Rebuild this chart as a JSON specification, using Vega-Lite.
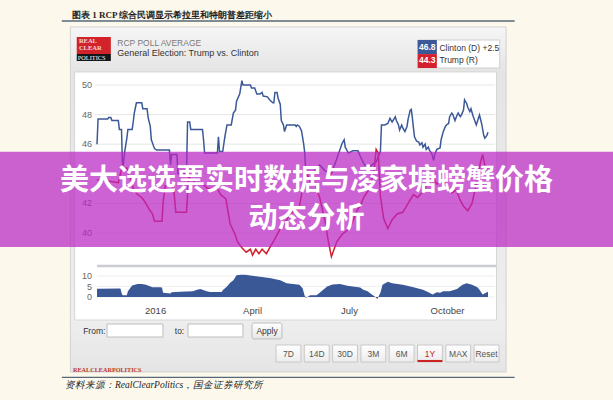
{
"$schema":"https://vega.github.io/schema/vega-lite/v6.json",
"width":613,"height":400,"autosize":"none","padding":0,"background":"#fcf8ec",
"config":{"view":{"stroke":null}},
"datasets":{
"one":[{"k":1}],
"polls":[
{"date":"2015-11-07","cand":"Clinton","pct":46.0},{"date":"2015-11-08","cand":"Clinton","pct":47.7},{"date":"2015-11-17","cand":"Clinton","pct":47.7},{"date":"2015-11-18","cand":"Clinton","pct":47.8},{"date":"2015-11-20","cand":"Clinton","pct":47.8},{"date":"2015-11-21","cand":"Clinton","pct":47.6},{"date":"2015-11-27","cand":"Clinton","pct":47.6},{"date":"2015-11-28","cand":"Clinton","pct":47.0},{"date":"2015-11-30","cand":"Clinton","pct":47.0},{"date":"2015-12-01","cand":"Clinton","pct":44.2},{"date":"2015-12-03","cand":"Clinton","pct":45.5},{"date":"2015-12-05","cand":"Clinton","pct":46.4},{"date":"2015-12-06","cand":"Clinton","pct":47.0},{"date":"2015-12-10","cand":"Clinton","pct":47.0},{"date":"2015-12-11","cand":"Clinton","pct":47.5},{"date":"2015-12-12","cand":"Clinton","pct":48.1},{"date":"2015-12-14","cand":"Clinton","pct":48.8},{"date":"2015-12-19","cand":"Clinton","pct":48.8},{"date":"2015-12-20","cand":"Clinton","pct":48.4},{"date":"2015-12-24","cand":"Clinton","pct":48.4},{"date":"2015-12-25","cand":"Clinton","pct":47.8},{"date":"2015-12-27","cand":"Clinton","pct":47.2},{"date":"2015-12-28","cand":"Clinton","pct":46.3},{"date":"2015-12-31","cand":"Clinton","pct":45.7},{"date":"2016-01-02","cand":"Clinton","pct":45.6},{"date":"2016-01-14","cand":"Clinton","pct":45.6},{"date":"2016-01-15","cand":"Clinton","pct":44.6},{"date":"2016-01-16","cand":"Clinton","pct":45.3},{"date":"2016-01-21","cand":"Clinton","pct":45.3},{"date":"2016-01-22","cand":"Clinton","pct":44.0},{"date":"2016-01-30","cand":"Clinton","pct":44.0},{"date":"2016-01-31","cand":"Clinton","pct":47.5},{"date":"2016-02-02","cand":"Clinton","pct":47.5},{"date":"2016-02-03","cand":"Clinton","pct":47.0},{"date":"2016-02-14","cand":"Clinton","pct":47.0},{"date":"2016-02-15","cand":"Clinton","pct":46.3},{"date":"2016-02-16","cand":"Clinton","pct":45.4},{"date":"2016-02-28","cand":"Clinton","pct":45.4},{"date":"2016-02-29","cand":"Clinton","pct":46.5},{"date":"2016-03-01","cand":"Clinton","pct":45.5},{"date":"2016-03-04","cand":"Clinton","pct":45.5},{"date":"2016-03-06","cand":"Clinton","pct":46.5},{"date":"2016-03-08","cand":"Clinton","pct":47.3},{"date":"2016-03-12","cand":"Clinton","pct":47.3},{"date":"2016-03-14","cand":"Clinton","pct":48.1},{"date":"2016-03-16","cand":"Clinton","pct":48.3},{"date":"2016-03-17","cand":"Clinton","pct":48.9},{"date":"2016-03-20","cand":"Clinton","pct":49.4},{"date":"2016-03-22","cand":"Clinton","pct":50.3},{"date":"2016-03-23","cand":"Clinton","pct":50.0},{"date":"2016-03-30","cand":"Clinton","pct":50.0},{"date":"2016-03-31","cand":"Clinton","pct":49.8},{"date":"2016-04-03","cand":"Clinton","pct":49.8},{"date":"2016-04-05","cand":"Clinton","pct":49.4},{"date":"2016-04-08","cand":"Clinton","pct":49.4},{"date":"2016-04-10","cand":"Clinton","pct":49.5},{"date":"2016-04-11","cand":"Clinton","pct":49.25},{"date":"2016-04-15","cand":"Clinton","pct":49.2},{"date":"2016-04-17","cand":"Clinton","pct":49.0},{"date":"2016-04-20","cand":"Clinton","pct":48.8},{"date":"2016-04-21","cand":"Clinton","pct":48.8},{"date":"2016-04-22","cand":"Clinton","pct":49.5},{"date":"2016-04-24","cand":"Clinton","pct":49.5},{"date":"2016-04-25","cand":"Clinton","pct":49.1},{"date":"2016-04-27","cand":"Clinton","pct":48.7},{"date":"2016-04-28","cand":"Clinton","pct":47.6},{"date":"2016-04-30","cand":"Clinton","pct":47.3},{"date":"2016-05-01","cand":"Clinton","pct":46.85},{"date":"2016-05-03","cand":"Clinton","pct":47.3},{"date":"2016-05-11","cand":"Clinton","pct":47.3},{"date":"2016-05-12","cand":"Clinton","pct":47.2},{"date":"2016-05-13","cand":"Clinton","pct":47.3},{"date":"2016-05-15","cand":"Clinton","pct":47.2},{"date":"2016-05-17","cand":"Clinton","pct":46.9},{"date":"2016-05-19","cand":"Clinton","pct":46.0},{"date":"2016-05-20","cand":"Clinton","pct":45.4},{"date":"2016-05-21","cand":"Clinton","pct":44.0},{"date":"2016-05-25","cand":"Clinton","pct":43.6},{"date":"2016-05-30","cand":"Clinton","pct":44.3},{"date":"2016-06-03","cand":"Clinton","pct":44.6},{"date":"2016-06-08","cand":"Clinton","pct":44.2},{"date":"2016-06-14","cand":"Clinton","pct":44.0},{"date":"2016-06-19","cand":"Clinton","pct":45.0},{"date":"2016-06-24","cand":"Clinton","pct":46.05},{"date":"2016-06-26","cand":"Clinton","pct":46.3},{"date":"2016-06-27","cand":"Clinton","pct":45.8},{"date":"2016-06-30","cand":"Clinton","pct":45.4},{"date":"2016-07-04","cand":"Clinton","pct":45.55},{"date":"2016-07-09","cand":"Clinton","pct":45.55},{"date":"2016-07-11","cand":"Clinton","pct":45.2},{"date":"2016-07-15","cand":"Clinton","pct":44.6},{"date":"2016-07-20","cand":"Clinton","pct":44.5},{"date":"2016-07-26","cand":"Clinton","pct":44.8},{"date":"2016-07-30","cand":"Clinton","pct":45.5},{"date":"2016-07-31","cand":"Clinton","pct":47.3},{"date":"2016-08-03","cand":"Clinton","pct":47.3},{"date":"2016-08-06","cand":"Clinton","pct":47.4},{"date":"2016-08-08","cand":"Clinton","pct":47.75},{"date":"2016-08-10","cand":"Clinton","pct":47.5},{"date":"2016-08-13","cand":"Clinton","pct":47.85},{"date":"2016-08-14","cand":"Clinton","pct":47.6},{"date":"2016-08-16","cand":"Clinton","pct":47.3},{"date":"2016-08-17","cand":"Clinton","pct":46.96},{"date":"2016-08-19","cand":"Clinton","pct":47.3},{"date":"2016-08-20","cand":"Clinton","pct":47.1},{"date":"2016-08-22","cand":"Clinton","pct":46.85},{"date":"2016-08-24","cand":"Clinton","pct":47.2},{"date":"2016-08-25","cand":"Clinton","pct":47.7},{"date":"2016-08-27","cand":"Clinton","pct":48.3},{"date":"2016-08-28","cand":"Clinton","pct":48.35},{"date":"2016-08-29","cand":"Clinton","pct":47.8},{"date":"2016-08-30","cand":"Clinton","pct":47.1},{"date":"2016-08-31","cand":"Clinton","pct":46.5},{"date":"2016-09-02","cand":"Clinton","pct":46.2},{"date":"2016-09-04","cand":"Clinton","pct":46.15},{"date":"2016-09-05","cand":"Clinton","pct":45.95},{"date":"2016-09-07","cand":"Clinton","pct":46.1},{"date":"2016-09-08","cand":"Clinton","pct":45.8},{"date":"2016-09-10","cand":"Clinton","pct":46.0},{"date":"2016-09-11","cand":"Clinton","pct":45.65},{"date":"2016-09-13","cand":"Clinton","pct":45.8},{"date":"2016-09-14","cand":"Clinton","pct":45.6},{"date":"2016-09-16","cand":"Clinton","pct":45.4},{"date":"2016-09-18","cand":"Clinton","pct":44.9},{"date":"2016-09-19","cand":"Clinton","pct":45.3},{"date":"2016-09-21","cand":"Clinton","pct":45.65},{"date":"2016-09-24","cand":"Clinton","pct":45.75},{"date":"2016-09-25","cand":"Clinton","pct":46.3},{"date":"2016-09-27","cand":"Clinton","pct":46.85},{"date":"2016-09-29","cand":"Clinton","pct":47.2},{"date":"2016-09-30","cand":"Clinton","pct":47.3},{"date":"2016-10-02","cand":"Clinton","pct":47.4},{"date":"2016-10-03","cand":"Clinton","pct":47.86},{"date":"2016-10-05","cand":"Clinton","pct":48.1},{"date":"2016-10-06","cand":"Clinton","pct":48.0},{"date":"2016-10-08","cand":"Clinton","pct":47.6},{"date":"2016-10-10","cand":"Clinton","pct":47.97},{"date":"2016-10-11","cand":"Clinton","pct":48.1},{"date":"2016-10-13","cand":"Clinton","pct":47.86},{"date":"2016-10-14","cand":"Clinton","pct":47.97},{"date":"2016-10-16","cand":"Clinton","pct":48.3},{"date":"2016-10-17","cand":"Clinton","pct":49.0},{"date":"2016-10-19","cand":"Clinton","pct":48.75},{"date":"2016-10-20","cand":"Clinton","pct":48.5},{"date":"2016-10-22","cand":"Clinton","pct":48.2},{"date":"2016-10-23","cand":"Clinton","pct":48.4},{"date":"2016-10-25","cand":"Clinton","pct":47.9},{"date":"2016-10-27","cand":"Clinton","pct":47.5},{"date":"2016-10-28","cand":"Clinton","pct":47.3},{"date":"2016-10-30","cand":"Clinton","pct":47.75},{"date":"2016-10-31","cand":"Clinton","pct":47.97},{"date":"2016-11-02","cand":"Clinton","pct":47.4},{"date":"2016-11-04","cand":"Clinton","pct":46.6},{"date":"2016-11-05","cand":"Clinton","pct":46.4},{"date":"2016-11-07","cand":"Clinton","pct":46.6},{"date":"2016-11-08","cand":"Clinton","pct":46.8},
{"date":"2015-11-07","cand":"Trump","pct":43.6},{"date":"2015-11-19","cand":"Trump","pct":43.5},{"date":"2015-11-27","cand":"Trump","pct":43.4},{"date":"2015-11-30","cand":"Trump","pct":44.3},{"date":"2015-12-05","cand":"Trump","pct":44.4},{"date":"2015-12-08","cand":"Trump","pct":43.8},{"date":"2015-12-11","cand":"Trump","pct":43.0},{"date":"2015-12-15","cand":"Trump","pct":42.6},{"date":"2015-12-19","cand":"Trump","pct":42.4},{"date":"2015-12-22","cand":"Trump","pct":42.1},{"date":"2015-12-26","cand":"Trump","pct":41.6},{"date":"2015-12-29","cand":"Trump","pct":41.3},{"date":"2015-12-31","cand":"Trump","pct":40.8},{"date":"2016-01-07","cand":"Trump","pct":40.8},{"date":"2016-01-08","cand":"Trump","pct":42.0},{"date":"2016-01-10","cand":"Trump","pct":43.2},{"date":"2016-01-15","cand":"Trump","pct":43.2},{"date":"2016-01-18","cand":"Trump","pct":43.0},{"date":"2016-01-20","cand":"Trump","pct":41.4},{"date":"2016-01-30","cand":"Trump","pct":41.4},{"date":"2016-02-01","cand":"Trump","pct":43.8},{"date":"2016-02-07","cand":"Trump","pct":43.4},{"date":"2016-02-14","cand":"Trump","pct":43.3},{"date":"2016-02-19","cand":"Trump","pct":43.0},{"date":"2016-02-28","cand":"Trump","pct":43.0},{"date":"2016-03-02","cand":"Trump","pct":42.6},{"date":"2016-03-07","cand":"Trump","pct":42.3},{"date":"2016-03-11","cand":"Trump","pct":40.6},{"date":"2016-03-15","cand":"Trump","pct":40.0},{"date":"2016-03-18","cand":"Trump","pct":39.4},{"date":"2016-03-22","cand":"Trump","pct":39.0},{"date":"2016-03-26","cand":"Trump","pct":38.7},{"date":"2016-03-30","cand":"Trump","pct":38.9},{"date":"2016-04-01","cand":"Trump","pct":38.5},{"date":"2016-04-04","cand":"Trump","pct":38.9},{"date":"2016-04-07","cand":"Trump","pct":38.6},{"date":"2016-04-10","cand":"Trump","pct":38.9},{"date":"2016-04-14","cand":"Trump","pct":38.6},{"date":"2016-04-17","cand":"Trump","pct":39.0},{"date":"2016-04-22","cand":"Trump","pct":39.6},{"date":"2016-04-27","cand":"Trump","pct":40.3},{"date":"2016-05-01","cand":"Trump","pct":40.6},{"date":"2016-05-06","cand":"Trump","pct":41.3},{"date":"2016-05-11","cand":"Trump","pct":41.5},{"date":"2016-05-15","cand":"Trump","pct":41.8},{"date":"2016-05-18","cand":"Trump","pct":43.0},{"date":"2016-05-21","cand":"Trump","pct":44.2},{"date":"2016-05-25","cand":"Trump","pct":43.5},{"date":"2016-05-30","cand":"Trump","pct":43.2},{"date":"2016-06-03","cand":"Trump","pct":42.4},{"date":"2016-06-08","cand":"Trump","pct":40.8},{"date":"2016-06-11","cand":"Trump","pct":39.5},{"date":"2016-06-14","cand":"Trump","pct":38.4},{"date":"2016-06-16","cand":"Trump","pct":38.8},{"date":"2016-06-19","cand":"Trump","pct":39.4},{"date":"2016-06-24","cand":"Trump","pct":39.9},{"date":"2016-06-29","cand":"Trump","pct":40.2},{"date":"2016-07-03","cand":"Trump","pct":40.6},{"date":"2016-07-08","cand":"Trump","pct":41.5},{"date":"2016-07-12","cand":"Trump","pct":42.0},{"date":"2016-07-15","cand":"Trump","pct":42.5},{"date":"2016-07-20","cand":"Trump","pct":43.0},{"date":"2016-07-24","cand":"Trump","pct":44.2},{"date":"2016-07-26","cand":"Trump","pct":45.65},{"date":"2016-07-28","cand":"Trump","pct":45.4},{"date":"2016-07-30","cand":"Trump","pct":42.5},{"date":"2016-08-02","cand":"Trump","pct":41.0},{"date":"2016-08-06","cand":"Trump","pct":40.3},{"date":"2016-08-10","cand":"Trump","pct":40.9},{"date":"2016-08-15","cand":"Trump","pct":41.3},{"date":"2016-08-20","cand":"Trump","pct":41.4},{"date":"2016-08-25","cand":"Trump","pct":42.0},{"date":"2016-08-30","cand":"Trump","pct":42.6},{"date":"2016-09-03","cand":"Trump","pct":42.4},{"date":"2016-09-08","cand":"Trump","pct":42.8},{"date":"2016-09-13","cand":"Trump","pct":43.4},{"date":"2016-09-17","cand":"Trump","pct":43.8},{"date":"2016-09-21","cand":"Trump","pct":43.3},{"date":"2016-09-26","cand":"Trump","pct":43.6},{"date":"2016-09-30","cand":"Trump","pct":43.2},{"date":"2016-10-05","cand":"Trump","pct":42.7},{"date":"2016-10-09","cand":"Trump","pct":42.9},{"date":"2016-10-13","cand":"Trump","pct":42.2},{"date":"2016-10-16","cand":"Trump","pct":41.8},{"date":"2016-10-20","cand":"Trump","pct":41.5},{"date":"2016-10-24","cand":"Trump","pct":42.0},{"date":"2016-10-27","cand":"Trump","pct":43.0},{"date":"2016-10-30","cand":"Trump","pct":44.0},{"date":"2016-11-01","cand":"Trump","pct":44.8},{"date":"2016-11-03","cand":"Trump","pct":45.3},{"date":"2016-11-05","cand":"Trump","pct":44.6},{"date":"2016-11-08","cand":"Trump","pct":44.3}
],
"spread":[
{"date":"2015-11-07","s":3.9},{"date":"2015-11-29","s":4.0},{"date":"2015-11-30","s":2.0},{"date":"2015-12-01","s":0.8},{"date":"2015-12-05","s":0.8},{"date":"2015-12-06","s":2.7},{"date":"2015-12-10","s":5.5},{"date":"2015-12-15","s":6.2},{"date":"2015-12-19","s":6.2},{"date":"2015-12-23","s":5.8},{"date":"2015-12-29","s":4.7},{"date":"2016-01-05","s":4.7},{"date":"2016-01-07","s":4.5},{"date":"2016-01-08","s":2.0},{"date":"2016-01-15","s":1.7},{"date":"2016-01-16","s":2.3},{"date":"2016-01-24","s":2.5},{"date":"2016-02-05","s":2.7},{"date":"2016-02-09","s":3.5},{"date":"2016-02-12","s":3.8},{"date":"2016-02-14","s":3.5},{"date":"2016-02-18","s":2.7},{"date":"2016-02-21","s":2.4},{"date":"2016-03-03","s":2.4},{"date":"2016-03-04","s":3.2},{"date":"2016-03-08","s":5.0},{"date":"2016-03-11","s":6.8},{"date":"2016-03-14","s":8.0},{"date":"2016-03-17","s":10.3},{"date":"2016-03-21","s":10.6},{"date":"2016-03-25","s":10.6},{"date":"2016-03-30","s":10.2},{"date":"2016-04-08","s":9.6},{"date":"2016-04-17","s":9.1},{"date":"2016-04-27","s":8.0},{"date":"2016-05-03","s":6.5},{"date":"2016-05-09","s":6.2},{"date":"2016-05-15","s":5.8},{"date":"2016-05-18","s":4.2},{"date":"2016-05-20","s":0.5},{"date":"2016-05-21","s":-0.2},{"date":"2016-05-23","s":0.1},{"date":"2016-05-25","s":0.8},{"date":"2016-05-31","s":0.8},{"date":"2016-06-03","s":2.0},{"date":"2016-06-10","s":5.0},{"date":"2016-06-15","s":6.0},{"date":"2016-06-22","s":6.2},{"date":"2016-06-29","s":5.3},{"date":"2016-07-04","s":5.0},{"date":"2016-07-11","s":4.5},{"date":"2016-07-14","s":3.5},{"date":"2016-07-18","s":2.7},{"date":"2016-07-22","s":1.2},{"date":"2016-07-25","s":0.1},{"date":"2016-07-27","s":-0.8},{"date":"2016-07-28","s":0.0},{"date":"2016-07-30","s":2.0},{"date":"2016-08-01","s":5.8},{"date":"2016-08-06","s":7.3},{"date":"2016-08-10","s":6.5},{"date":"2016-08-15","s":6.2},{"date":"2016-08-20","s":5.8},{"date":"2016-08-30","s":4.7},{"date":"2016-09-08","s":3.5},{"date":"2016-09-14","s":2.0},{"date":"2016-09-17","s":1.2},{"date":"2016-09-21","s":2.3},{"date":"2016-09-24","s":2.0},{"date":"2016-09-27","s":2.7},{"date":"2016-10-03","s":2.7},{"date":"2016-10-10","s":3.8},{"date":"2016-10-15","s":5.8},{"date":"2016-10-19","s":6.5},{"date":"2016-10-24","s":5.8},{"date":"2016-10-29","s":4.7},{"date":"2016-10-31","s":3.5},{"date":"2016-11-03","s":1.2},{"date":"2016-11-06","s":2.0},{"date":"2016-11-08","s":2.5}
],
"neg":[{"date":"2016-05-20","s":0},{"date":"2016-05-21","s":-0.2},{"date":"2016-05-22","s":0},{"date":"2016-07-26","s":0},{"date":"2016-07-27","s":-0.8},{"date":"2016-07-28","s":0}],
"grid":[{"v":40},{"v":42},{"v":44},{"v":46},{"v":48},{"v":50}],
"sgrid":[{"v":0},{"v":5},{"v":10}],
"months":[{"date":"2016-01-01","label":"2016"},{"date":"2016-04-01","label":"April"},{"date":"2016-07-01","label":"July"},{"date":"2016-10-01","label":"October"}],
"buttons":[{"label":"7D"},{"label":"14D"},{"label":"30D"},{"label":"3M"},{"label":"6M"},{"label":"1Y"},{"label":"MAX"},{"label":"Reset"}]
},
"resolve":{"scale":{"x":"independent","y":"independent"}},
"layer":[
{"layer":[
{"data":{"name":"one"},"mark":{"type":"text","text":"图表 1  RCP 综合民调显示希拉里和特朗普差距缩小","align":"left","baseline":"middle","font":"Liberation Serif","fontSize":9,"fontWeight":"bold","color":"#1e1e1e"},
 "encoding":{"x":{"datum":{"year":2015,"month":10,"date":14,"hours":12,"utc":true},"type":"temporal","axis":null,"scale":{"type":"utc","domain":[{"year":2015,"month":11,"date":7,"utc":true},{"year":2016,"month":11,"date":8,"utc":true}],"range":[97,488],"nice":false}},
  "y":{"datum":54.73,"type":"quantitative","axis":null,"scale":{"domain":[40,50],"range":[233,85],"nice":false,"zero":false}}}},
{"data":{"name":"one"},"mark":{"type":"rule","color":"#56697a","strokeWidth":1.5},
 "encoding":{"x":{"datum":{"year":2015,"month":10,"date":5,"utc":true},"type":"temporal","axis":null},"x2":{"datum":{"year":2016,"month":12,"date":3,"utc":true}},"y":{"datum":54.32,"type":"quantitative","axis":null}}},
{"data":{"name":"one"},"mark":{"type":"rect","stroke":"#d2d2d2","color":{"gradient":"linear","x1":0,"y1":0,"x2":0,"y2":1,"stops":[{"offset":0,"color":"#f6f6f6"},{"offset":0.13,"color":"#e4e4e4"},{"offset":0.85,"color":"#eeeeee"},{"offset":1,"color":"#e5e5e5"}]}},
 "encoding":{"x":{"datum":{"year":2015,"month":10,"date":13,"utc":true},"type":"temporal","axis":null},"x2":{"datum":{"year":2016,"month":11,"date":25,"utc":true}},"y":{"datum":53.92,"type":"quantitative","axis":null},"y2":{"datum":30.61}}},
{"data":{"name":"one"},"mark":{"type":"rect","color":"#ffffff","stroke":"#d6d6d6"},
 "encoding":{"x":{"datum":{"year":2015,"month":10,"date":17,"utc":true},"type":"temporal","axis":null},"x2":{"datum":{"year":2016,"month":11,"date":16,"utc":true}},"y":{"datum":50.88,"type":"quantitative","axis":null},"y2":{"datum":34.12}}},
{"data":{"name":"one"},"mark":{"type":"rect","color":"#d2232a"},
 "encoding":{"x":{"datum":{"year":2015,"month":10,"date":19,"utc":true},"type":"temporal","axis":null},"x2":{"datum":{"year":2015,"month":11,"date":20,"utc":true}},"y":{"datum":53.24,"type":"quantitative","axis":null},"y2":{"datum":52.09}}},
{"data":{"name":"one"},"mark":{"type":"rect","color":"#161616"},
 "encoding":{"x":{"datum":{"year":2015,"month":10,"date":19,"utc":true},"type":"temporal","axis":null},"x2":{"datum":{"year":2015,"month":11,"date":20,"utc":true}},"y":{"datum":52.09,"type":"quantitative","axis":null},"y2":{"datum":51.62}}},
{"data":{"name":"one"},"mark":{"type":"text","text":"REAL","align":"left","baseline":"middle","font":"Liberation Serif","fontSize":6.5,"fontWeight":"bold","color":"#f6d4d4"},
 "encoding":{"x":{"datum":{"year":2015,"month":10,"date":21,"utc":true},"type":"temporal","axis":null},"y":{"datum":52.94,"type":"quantitative","axis":null}}},
{"data":{"name":"one"},"mark":{"type":"text","text":"CLEAR","align":"left","baseline":"middle","font":"Liberation Serif","fontSize":6.5,"fontWeight":"bold","color":"#f6d4d4"},
 "encoding":{"x":{"datum":{"year":2015,"month":10,"date":21,"utc":true},"type":"temporal","axis":null},"y":{"datum":52.47,"type":"quantitative","axis":null}}},
{"data":{"name":"one"},"mark":{"type":"text","text":"POLITICS","align":"left","baseline":"middle","font":"Liberation Serif","fontSize":6.3,"color":"#ffffff"},
 "encoding":{"x":{"datum":{"year":2015,"month":10,"date":20,"utc":true},"type":"temporal","axis":null},"y":{"datum":51.84,"type":"quantitative","axis":null}}},
{"data":{"name":"one"},"mark":{"type":"text","text":"RCP POLL AVERAGE","align":"left","baseline":"middle","font":"Liberation Sans","fontSize":8.5,"color":"#7a7a7a"},
 "encoding":{"x":{"datum":{"year":2015,"month":11,"date":26,"utc":true},"type":"temporal","axis":null},"y":{"datum":52.84,"type":"quantitative","axis":null}}},
{"data":{"name":"one"},"mark":{"type":"text","text":"General Election: Trump vs. Clinton","align":"left","baseline":"middle","font":"Liberation Sans","fontSize":9,"color":"#333333"},
 "encoding":{"x":{"datum":{"year":2015,"month":11,"date":26,"utc":true},"type":"temporal","axis":null},"y":{"datum":52.16,"type":"quantitative","axis":null}}},
{"data":{"name":"one"},"mark":{"type":"rect","color":"#ffffff","stroke":"#d0d0d0"},
 "encoding":{"x":{"datum":{"year":2016,"month":9,"date":3,"utc":true},"type":"temporal","axis":null},"x2":{"datum":{"year":2016,"month":11,"date":19,"utc":true}},"y":{"datum":53.04,"type":"quantitative","axis":null},"y2":{"datum":51.15}}},
{"data":{"name":"one"},"mark":{"type":"rect","color":"#3b5998"},
 "encoding":{"x":{"datum":{"year":2016,"month":9,"date":3,"utc":true},"type":"temporal","axis":null},"x2":{"datum":{"year":2016,"month":9,"date":21,"utc":true}},"y":{"datum":53.04,"type":"quantitative","axis":null},"y2":{"datum":52.09}}},
{"data":{"name":"one"},"mark":{"type":"rect","color":"#d4202c"},
 "encoding":{"x":{"datum":{"year":2016,"month":9,"date":3,"utc":true},"type":"temporal","axis":null},"x2":{"datum":{"year":2016,"month":9,"date":21,"utc":true}},"y":{"datum":52.09,"type":"quantitative","axis":null},"y2":{"datum":51.15}}},
{"data":{"name":"one"},"mark":{"type":"text","text":"46.8","align":"left","baseline":"middle","font":"Liberation Sans","fontSize":8.5,"fontWeight":"bold","color":"#ffffff"},
 "encoding":{"x":{"datum":{"year":2016,"month":9,"date":4,"hours":6,"utc":true},"type":"temporal","axis":null},"y":{"datum":52.57,"type":"quantitative","axis":null}}},
{"data":{"name":"one"},"mark":{"type":"text","text":"44.3","align":"left","baseline":"middle","font":"Liberation Sans","fontSize":8.5,"fontWeight":"bold","color":"#ffffff"},
 "encoding":{"x":{"datum":{"year":2016,"month":9,"date":4,"hours":6,"utc":true},"type":"temporal","axis":null},"y":{"datum":51.66,"type":"quantitative","axis":null}}},
{"data":{"name":"one"},"mark":{"type":"text","text":"Clinton (D) +2.5","align":"left","baseline":"middle","font":"Liberation Sans","fontSize":8.5,"color":"#333333"},
 "encoding":{"x":{"datum":{"year":2016,"month":9,"date":23,"hours":10,"utc":true},"type":"temporal","axis":null},"y":{"datum":52.53,"type":"quantitative","axis":null}}},
{"data":{"name":"one"},"mark":{"type":"text","text":"Trump (R)","align":"left","baseline":"middle","font":"Liberation Sans","fontSize":8.5,"color":"#333333"},
 "encoding":{"x":{"datum":{"year":2016,"month":9,"date":23,"hours":10,"utc":true},"type":"temporal","axis":null},"y":{"datum":51.72,"type":"quantitative","axis":null}}},
{"data":{"name":"grid"},"mark":{"type":"rule","color":"#e6e6e6","strokeWidth":1},
 "encoding":{"x":{"datum":{"year":2015,"month":11,"date":5,"utc":true},"type":"temporal","axis":null},"x2":{"datum":{"year":2016,"month":11,"date":14,"hours":14,"utc":true}},"y":{"field":"v","type":"quantitative","axis":null}}},
{"data":{"name":"grid"},"transform":[{"filter":"datum.v !== 44"}],"mark":{"type":"text","align":"right","baseline":"middle","font":"Liberation Sans","fontSize":9,"color":"#666666"},
 "encoding":{"x":{"datum":{"year":2015,"month":11,"date":2,"hours":7,"utc":true},"type":"temporal","axis":null},"y":{"field":"v","type":"quantitative","axis":null},"text":{"field":"v","type":"quantitative"}}},
{"data":{"name":"polls"},"mark":{"type":"line","strokeWidth":1.5},
 "encoding":{"x":{"field":"date","type":"temporal","axis":null},"y":{"field":"pct","type":"quantitative","axis":null},"color":{"field":"cand","type":"nominal","scale":{"domain":["Clinton","Trump"],"range":["#3b5998","#d4202c"]},"legend":null}}},
{"data":{"name":"one"},"mark":{"type":"rect","color":"#b826c4","opacity":0.72},
 "encoding":{"x":{"datum":{"year":2015,"month":7,"date":1,"utc":true},"type":"temporal","axis":null},"x2":{"datum":{"year":2017,"month":4,"date":1,"utc":true}},"y":{"datum":45.49,"type":"quantitative","axis":null},"y2":{"datum":39.05}}},
{"data":{"name":"one"},"mark":{"type":"text","text":"美大选选票实时数据与凌家塘螃蟹价格","align":"center","baseline":"middle","font":"Noto Sans CJK SC","fontSize":29,"fontWeight":"bold","color":"#ffffff"},
 "encoding":{"x":{"datum":{"year":2016,"month":5,"date":21,"hours":14,"utc":true},"type":"temporal","axis":null},"y":{"datum":43.51,"type":"quantitative","axis":null}}},
{"data":{"name":"one"},"mark":{"type":"text","text":"动态分析","align":"center","baseline":"middle","font":"Noto Sans CJK SC","fontSize":29,"fontWeight":"bold","color":"#ffffff"},
 "encoding":{"x":{"datum":{"year":2016,"month":5,"date":21,"hours":14,"utc":true},"type":"temporal","axis":null},"y":{"datum":40.95,"type":"quantitative","axis":null}}},
{"data":{"name":"one"},"mark":{"type":"text","text":"From:","align":"left","baseline":"middle","font":"Liberation Sans","fontSize":8.5,"color":"#333333"},
 "encoding":{"x":{"datum":{"year":2015,"month":10,"date":25,"utc":true},"type":"temporal","axis":null},"y":{"datum":33.38,"type":"quantitative","axis":null}}},
{"data":{"name":"one"},"mark":{"type":"rect","color":"#ffffff","stroke":"#bdbdbd"},
 "encoding":{"x":{"datum":{"year":2015,"month":11,"date":16,"hours":10,"utc":true},"type":"temporal","axis":null},"x2":{"datum":{"year":2016,"month":1,"date":7,"hours":22,"utc":true}},"y":{"datum":33.85,"type":"quantitative","axis":null},"y2":{"datum":32.97}}},
{"data":{"name":"one"},"mark":{"type":"text","text":"to:","align":"left","baseline":"middle","font":"Liberation Sans","fontSize":8.5,"color":"#333333"},
 "encoding":{"x":{"datum":{"year":2016,"month":1,"date":19,"utc":true},"type":"temporal","axis":null},"y":{"datum":33.38,"type":"quantitative","axis":null}}},
{"data":{"name":"one"},"mark":{"type":"rect","color":"#ffffff","stroke":"#bdbdbd"},
 "encoding":{"x":{"datum":{"year":2016,"month":1,"date":31,"hours":10,"utc":true},"type":"temporal","axis":null},"x2":{"datum":{"year":2016,"month":3,"date":23,"utc":true}},"y":{"datum":33.85,"type":"quantitative","axis":null},"y2":{"datum":32.97}}},
{"data":{"name":"one"},"mark":{"type":"rect","stroke":"#bdbdbd","cornerRadius":2,"color":{"gradient":"linear","x1":0,"y1":0,"x2":0,"y2":1,"stops":[{"offset":0,"color":"#ffffff"},{"offset":1,"color":"#e6e6e6"}]}},
 "encoding":{"x":{"datum":{"year":2016,"month":3,"date":31,"hours":12,"utc":true},"type":"temporal","axis":null},"x2":{"datum":{"year":2016,"month":4,"date":28,"hours":14,"utc":true}},"y":{"datum":33.92,"type":"quantitative","axis":null},"y2":{"datum":32.84}}},
{"data":{"name":"one"},"mark":{"type":"text","text":"Apply","align":"center","baseline":"middle","font":"Liberation Sans","fontSize":8.5,"color":"#333333"},
 "encoding":{"x":{"datum":{"year":2016,"month":4,"date":14,"hours":14,"utc":true},"type":"temporal","axis":null},"y":{"datum":33.38,"type":"quantitative","axis":null}}},
{"data":{"name":"one"},"mark":{"type":"text","text":"REALCLEARPOLITICS","align":"left","baseline":"middle","font":"Liberation Serif","fontSize":6.2,"fontWeight":"bold","color":"#c0392b"},
 "encoding":{"x":{"datum":{"year":2015,"month":10,"date":15,"hours":12,"utc":true},"type":"temporal","axis":null},"y":{"datum":30.74,"type":"quantitative","axis":null}}},
{"data":{"name":"one"},"mark":{"type":"rule","color":"#56697a","strokeWidth":1.2},
 "encoding":{"x":{"datum":{"year":2015,"month":10,"date":5,"utc":true},"type":"temporal","axis":null},"x2":{"datum":{"year":2016,"month":12,"date":3,"utc":true}},"y":{"datum":30.24,"type":"quantitative","axis":null}}},
{"data":{"name":"one"},"mark":{"type":"text","text":"资料来源：RealClearPolitics，国金证券研究所","align":"left","baseline":"middle","font":"Liberation Serif","fontSize":9.5,"fontStyle":"italic","color":"#222222"},
 "encoding":{"x":{"datum":{"year":2015,"month":10,"date":8,"utc":true},"type":"temporal","axis":null},"y":{"datum":29.73,"type":"quantitative","axis":null}}}
]},
{"layer":[
{"data":{"name":"sgrid"},"mark":{"type":"rule","color":"#eeeeee","strokeWidth":1},
 "encoding":{"x":{"datum":{"year":2015,"month":11,"date":7,"utc":true},"type":"temporal","axis":null,"scale":{"type":"utc","domain":[{"year":2015,"month":11,"date":7,"utc":true},{"year":2016,"month":11,"date":8,"utc":true}],"range":[97,488],"nice":false}},"x2":{"datum":{"year":2016,"month":11,"date":14,"hours":14,"utc":true}},
  "y":{"field":"v","type":"quantitative","axis":null,"scale":{"domain":[0,10],"range":[297,276],"nice":false,"zero":false}}}},
{"data":{"name":"one"},"mark":{"type":"rule","color":"#c9ccd3","strokeWidth":2.5},
 "encoding":{"x":{"datum":{"year":2015,"month":11,"date":7,"utc":true},"type":"temporal","axis":null},"x2":{"datum":{"year":2016,"month":11,"date":16,"utc":true}},"y":{"datum":14.76,"type":"quantitative","axis":null}}},
{"data":{"name":"spread"},"mark":{"type":"area","color":"#3a5896"},
 "encoding":{"x":{"field":"date","type":"temporal","axis":null},"y":{"field":"s","type":"quantitative","axis":null},"y2":{"datum":0}}},
{"data":{"name":"neg"},"mark":{"type":"area","color":"#d4202c"},
 "encoding":{"x":{"field":"date","type":"temporal","axis":null},"y":{"field":"s","type":"quantitative","axis":null},"y2":{"datum":0}}},
{"data":{"name":"sgrid"},"mark":{"type":"text","align":"right","baseline":"middle","font":"Liberation Sans","fontSize":9,"color":"#666666"},
 "encoding":{"x":{"datum":{"year":2015,"month":11,"date":2,"hours":7,"utc":true},"type":"temporal","axis":null},"y":{"field":"v","type":"quantitative","axis":null},"text":{"field":"v","type":"quantitative"}}},
{"data":{"name":"months"},"mark":{"type":"text","align":"center","baseline":"middle","font":"Liberation Sans","fontSize":9.5,"color":"#444444"},
 "encoding":{"x":{"field":"date","type":"temporal","axis":null},"y":{"datum":-6.6,"type":"quantitative","axis":null},"text":{"field":"label","type":"nominal"}}}
]},
{"layer":[
{"data":{"name":"buttons"},"mark":{"type":"rect","stroke":"#c8c8c8","color":{"gradient":"linear","x1":0,"y1":0,"x2":0,"y2":1,"stops":[{"offset":0,"color":"#ffffff"},{"offset":1,"color":"#ececec"}]}},
 "encoding":{"x":{"field":"label","type":"nominal","axis":null,"scale":{"type":"band","domain":["7D","14D","30D","3M","6M","1Y","MAX","Reset"],"range":[276,499],"paddingInner":0.12,"paddingOuter":0}},
  "y":{"datum":0,"type":"quantitative","axis":null,"scale":{"domain":[0,1],"range":[362,345],"nice":false,"zero":false}},"y2":{"datum":1}}},
{"data":{"name":"buttons"},"transform":[{"filter":"datum.label === '1Y'"}],"mark":{"type":"rect","color":"#cc2222"},
 "encoding":{"x":{"field":"label","type":"nominal","axis":null},"y":{"datum":0,"type":"quantitative","axis":null},"y2":{"datum":0.12}}},
{"data":{"name":"buttons"},"mark":{"type":"text","align":"center","baseline":"middle","font":"Liberation Sans","fontSize":8.5},
 "encoding":{"x":{"field":"label","type":"nominal","axis":null},"y":{"datum":0.5,"type":"quantitative","axis":null},"text":{"field":"label","type":"nominal"},
  "color":{"condition":{"test":"datum.label === '1Y'","value":"#cc2222"},"value":"#555555"}}}
]}
]
}
